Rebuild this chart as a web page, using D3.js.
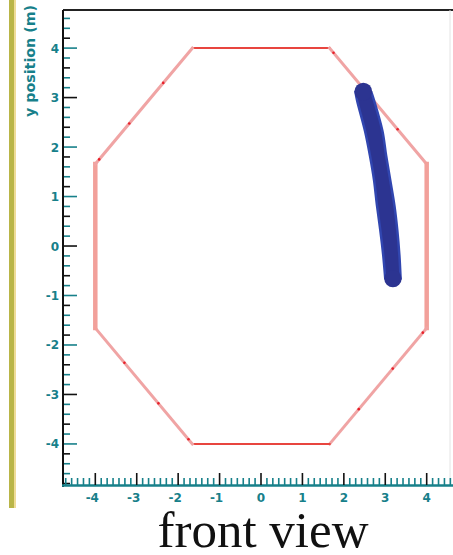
<!DOCTYPE html>
<html>
<head>
<meta charset="utf-8">
<script src="https://cdn.jsdelivr.net/npm/d3@7"></script>
<style>
  body { margin: 0; background: #fff; }
  svg { display: block; }
</style>
</head>
<body>
<svg id="chart"></svg>
<script>
// Detector outline (regular octagon, apothem 4 m), vertices in metres
var octX = [-1.657, 1.657, 4, 4, 1.657, -1.657, -4, -4];
var octY = [4, 4, 1.657, -1.657, -4, -4, -1.657, 1.657];

// Track band: y, left edge x, right edge x
var bandY     = [3.12, 2.94, 2.33, 1.83, 1.33, 0.82, 0.32, -0.18, -0.66];
var bandLeft  = [2.28, 2.32, 2.51, 2.63, 2.73, 2.80, 2.88, 2.95, 3.00];
var bandRight = [2.66, 2.73, 2.93, 3.02, 3.12, 3.22, 3.29, 3.34, 3.37];

var xTicks = [-4, -3, -2, -1, 0, 1, 2, 3, 4];
var yTicks = [-4, -3, -2, -1, 0, 1, 2, 3, 4];

var W = 453, H = 555;
var teal = "#17808a";

var svg = d3.select("#chart").attr("width", W).attr("height", H);

var x = d3.scaleLinear().domain([-4.78, 4.78]).range([63, 459]);
var y = d3.scaleLinear().domain([-4.85, 4.77]).range([486, 10]);

// olive strip on the left
svg.append("rect").attr("x", 9).attr("y", 0).attr("width", 5).attr("height", 508).style("fill", "#b9b548");
svg.append("rect").attr("x", 14).attr("y", 0).attr("width", 2).attr("height", 508).style("fill", "#efdc98");

// top frame + faint right frame
svg.append("line").attr("x1", 63).attr("x2", W).attr("y1", 10).attr("y2", 10)
    .style("stroke", "#222").style("stroke-width", 2);
svg.append("line").attr("x1", 450).attr("x2", 450).attr("y1", 10).attr("y2", 486)
    .style("stroke", "#e4e4e4").style("stroke-width", 1);

// octagon edges, drawn one by one (horizontal ones are more saturated)
var edges = octX.map(function(d, i){
    var j = (i + 1) % octX.length;
    return {x1: octX[i], y1: octY[i], x2: octX[j], y2: octY[j]};
});
svg.append("g").selectAll("line")
    .data(edges)
    .enter().append("line")
        .attr("x1", function(d){ return x(d.x1); })
        .attr("y1", function(d){ return y(d.y1); })
        .attr("x2", function(d){ return x(d.x2); })
        .attr("y2", function(d){ return y(d.y2); })
        .style("stroke", function(d){
            if (d.y1 == d.y2) return "#e8453f";
            if (d.x1 == d.x2) return "#f2a09a";
            return "#f0a4a4";
        })
        .style("stroke-width", function(d){
            if (d.y1 == d.y2) return 2;
            if (d.x1 == d.x2) return 4.5;
            return 3;
        })
        .style("stroke-linecap", "square");

// small red dots along the diagonal edges
var dots = [];
edges.forEach(function(e){
    if (e.x1 != e.x2 && e.y1 != e.y2) {
        [0.04, 0.35, 0.7].forEach(function(t){
            dots.push([e.x1 + (e.x2 - e.x1) * t, e.y1 + (e.y2 - e.y1) * t]);
        });
    }
});
svg.append("g").selectAll("circle")
    .data(dots)
    .enter().append("circle")
        .attr("cx", function(d){ return x(d[0]); })
        .attr("cy", function(d){ return y(d[1]); })
        .attr("r", 1.3)
        .style("fill", "#e8202a");

// track band
var band = bandY.map(function(v, i){ return {y: v, l: bandLeft[i], r: bandRight[i]}; });
var area = d3.area()
    .y(function(d){ return y(d.y); })
    .x0(function(d){ return x(d.l); })
    .x1(function(d){ return x(d.r); })
    .curve(d3.curveCatmullRom);
var bandG = svg.append("g");
bandG.append("path")
    .datum(band)
    .attr("d", area)
    .style("fill", "#2c3491")
    .style("stroke", "#3146b0")
    .style("stroke-width", 2.5)
    .style("stroke-linejoin", "round");
// rounded ends of the band
bandG.selectAll("circle")
    .data([band[0], band[band.length - 1]])
    .enter().append("circle")
        .attr("cx", function(d){ return (x(d.l) + x(d.r)) / 2; })
        .attr("cy", function(d){ return y(d.y); })
        .attr("r", function(d){ return (x(d.r) - x(d.l)) / 2 + 1; })
        .style("fill", "#2c3491");

// y axis
var yAxis = svg.append("g");
yAxis.append("line").attr("x1", 63).attr("x2", 63).attr("y1", 10).attr("y2", 487)
    .style("stroke", "#111").style("stroke-width", 2);
yAxis.selectAll(".ymin")
    .data(d3.range(-24, 24).map(function(i){ return i * 0.2; }))
    .enter().append("line")
        .attr("x1", 64)
        .attr("x2", function(d){ return Math.abs(d - Math.round(d)) < 1e-6 ? 77 : 70; })
        .attr("y1", function(d){ return y(d); })
        .attr("y2", function(d){ return y(d); })
        .style("stroke", function(d, i){ return i % 3 == 0 ? "#111" : teal; })
        .style("stroke-width", 1.6);
yAxis.selectAll("text")
    .data(yTicks)
    .enter().append("text")
        .attr("x", 59)
        .attr("y", function(d){ return y(d) + 4.5; })
        .attr("text-anchor", "end")
        .style("font-family", "'DejaVu Sans', sans-serif")
        .style("font-size", "12px")
        .style("font-weight", "bold")
        .style("fill", teal)
        .text(function(d){ return d; });

// x axis
var xAxis = svg.append("g");
xAxis.append("line").attr("x1", 62).attr("x2", W).attr("y1", 485.5).attr("y2", 485.5)
    .style("stroke", teal).style("stroke-width", 2.5);
xAxis.selectAll(".xmin")
    .data(d3.range(-33, 34).map(function(i){ return i / 7; }))
    .enter().append("line")
        .attr("x1", function(d){ return x(d); })
        .attr("x2", function(d){ return x(d); })
        .attr("y1", 485)
        .attr("y2", function(d){ return Math.abs(d - Math.round(d)) < 1e-6 ? 473 : 478; })
        .style("stroke", function(d){ return Math.abs(d - Math.round(d)) < 1e-6 ? "#111" : teal; })
        .style("stroke-width", 1.6);
xAxis.selectAll("text")
    .data(xTicks)
    .enter().append("text")
        .attr("x", function(d){ return x(d) - (d < 0 ? 3 : 0); })
        .attr("y", 502)
        .attr("text-anchor", "middle")
        .style("font-family", "'DejaVu Sans', sans-serif")
        .style("font-size", "12px")
        .style("font-weight", "bold")
        .style("fill", teal)
        .text(function(d){ return d; });

// axis title
svg.append("text")
    .attr("transform", "translate(35,61) rotate(-90)")
    .attr("text-anchor", "middle")
    .attr("textLength", 112)
    .attr("lengthAdjust", "spacingAndGlyphs")
    .style("font-family", "'DejaVu Sans', sans-serif")
    .style("font-size", "14px")
    .style("font-weight", "bold")
    .style("fill", teal)
    .text("y position (m)");

// caption
svg.append("text")
    .attr("x", 263)
    .attr("y", 547)
    .attr("text-anchor", "middle")
    .style("font-family", "'Liberation Serif', 'Times New Roman', serif")
    .style("font-size", "51px")
    .style("fill", "#111")
    .text("front view");
</script>
</body>
</html>
